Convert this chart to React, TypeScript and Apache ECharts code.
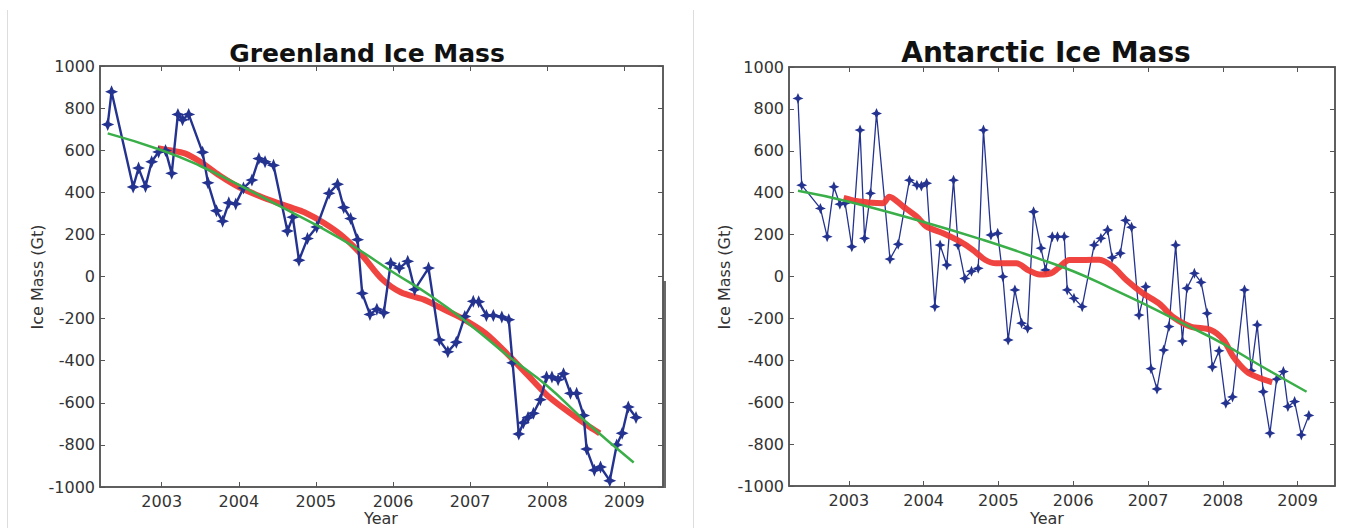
import React, { useEffect, useRef } from "react";
import * as echarts from "echarts";

// ---------- Tick labels ----------
const yearTicks = [2003, 2004, 2005, 2006, 2007, 2008, 2009];

// ---------- Greenland ----------
const grObsYear = [
  2002.30, 2002.35, 2002.63, 2002.70, 2002.79, 2002.87, 2002.96, 2003.05, 2003.13, 2003.21,
  2003.27, 2003.35, 2003.53, 2003.60, 2003.71, 2003.79, 2003.87, 2003.96, 2004.06, 2004.17,
  2004.26, 2004.34, 2004.45, 2004.63, 2004.70, 2004.78, 2004.89, 2005.01, 2005.17, 2005.28,
  2005.36, 2005.45, 2005.54, 2005.60, 2005.70, 2005.79, 2005.88, 2005.97, 2006.08, 2006.19,
  2006.28, 2006.46, 2006.60, 2006.71, 2006.82, 2006.93, 2007.04, 2007.11, 2007.21, 2007.30,
  2007.41, 2007.50, 2007.55, 2007.63, 2007.69, 2007.75, 2007.82, 2007.91, 2007.99, 2008.06,
  2008.14, 2008.21, 2008.30, 2008.38, 2008.47, 2008.51, 2008.61, 2008.69, 2008.81, 2008.90,
  2008.97, 2009.05, 2009.15,
];
const grObsMass = [
  722, 878, 425, 515, 428, 545, 592, 598, 490, 770,
  745, 770, 590, 445, 312, 263, 350, 345, 420, 458,
  560, 545, 528, 216, 282, 77, 180, 235, 395, 438,
  328, 275, 175, -80, -180, -155, -172, 63, 40, 72,
  -62, 40, -302, -358, -312, -190, -118, -120, -185, -185,
  -192, -205, -410, -748, -695, -670, -650, -585, -477, -477,
  -490, -462, -555, -555, -660, -820, -920, -905, -970, -800,
  -745, -620, -670,
];
const grFitYear = [
  2002.95, 2003.1, 2003.3, 2003.5, 2003.75, 2004.0, 2004.25, 2004.5, 2004.7, 2004.85,
  2005.1, 2005.35, 2005.6, 2005.85, 2006.1, 2006.4, 2006.65, 2006.9, 2007.2, 2007.5,
  2007.75, 2008.0, 2008.3, 2008.55, 2008.68,
];
const grFitMass = [
  610, 600, 585, 545, 480, 425, 385, 350, 325, 305,
  255, 190, 100, -10, -75, -110, -155, -200, -270, -375,
  -470, -565, -650, -715, -745,
];
const grTrendYear = [2002.30, 2003.0, 2003.5, 2004.0, 2004.5, 2005.0, 2005.5, 2006.0, 2006.5, 2007.0, 2007.5, 2008.0, 2008.5, 2009.12];
const grTrendMass = [680, 600, 525, 435, 340, 245, 140, 20, -95, -230, -380, -520, -690, -884];

// ---------- Antarctica ----------
const anObsYear = [
  2002.32, 2002.37, 2002.62, 2002.71, 2002.80, 2002.88, 2002.95, 2003.04, 2003.15, 2003.21,
  2003.29, 2003.37, 2003.55, 2003.66, 2003.81, 2003.91, 2003.97, 2004.04, 2004.15, 2004.22,
  2004.31, 2004.40, 2004.46, 2004.55, 2004.64, 2004.73, 2004.80, 2004.90, 2004.99, 2005.06,
  2005.13, 2005.22, 2005.31, 2005.39, 2005.47, 2005.57, 2005.63, 2005.72, 2005.79, 2005.88,
  2005.92, 2006.01, 2006.12, 2006.28, 2006.37, 2006.46, 2006.52, 2006.63, 2006.70, 2006.78,
  2006.88, 2006.97, 2007.04, 2007.12, 2007.21, 2007.28, 2007.37, 2007.46, 2007.52, 2007.62,
  2007.71, 2007.79, 2007.86, 2007.95, 2008.04, 2008.13, 2008.29, 2008.38, 2008.46, 2008.54,
  2008.63, 2008.72, 2008.81, 2008.87, 2008.96, 2009.05, 2009.15,
];
const anObsMass = [
  850, 436, 325, 190, 428, 345, 350, 142, 699, 182,
  397, 778, 83, 154, 460, 436, 432, 445, -144, 150,
  55, 460, 150, -9, 25, 39, 699, 198, 206, -1,
  -303, -64, -223, -247, 309, 135, 31, 190, 190, 190,
  -64, -104, -144, 150, 182, 222, 90, 111, 268, 235,
  -184, -49, -440, -537, -351, -239, 150, -308, -56, 15,
  -28, -176, -432, -355, -605, -575, -64, -450, -231, -550,
  -748, -490, -454, -621, -597, -756, -663,
];
const anFitYear = [
  2002.93, 2003.1, 2003.3, 2003.46, 2003.54, 2003.73, 2003.91, 2004.04, 2004.26, 2004.49,
  2004.66, 2004.82, 2004.97, 2005.24, 2005.40, 2005.55, 2005.70, 2005.80, 2005.95, 2006.17,
  2006.35, 2006.53, 2006.71, 2006.93, 2007.15, 2007.33, 2007.57, 2007.84, 2008.01, 2008.14,
  2008.32, 2008.50, 2008.66,
];
const anFitMass = [
  375, 360, 352, 350, 381, 333, 285, 238, 206, 166,
  126, 80, 63, 63, 30, 10, 15, 40, 79, 79,
  80, 47, -17, -80, -130, -192, -239, -255, -303, -383,
  -454, -486, -505,
];
const anTrendYear = [2002.32, 2003.0, 2004.0, 2004.8, 2005.5, 2006.0, 2006.5, 2007.0, 2007.5, 2008.0, 2008.5, 2009.12];
const anTrendMass = [409, 357, 260, 174, 90, 25, -55, -140, -230, -320, -425, -550];

const zip = (xs: number[], ys: number[]) => xs.map((x, i) => [x, ys[i]]);

const BLUE = "#24338f";
const RED = "#ee3a35";
const GREEN = "#3aae48";
const FRAME = "#555555";
const TXT = "#333333";
const STAR = "path://M5 0 L6.5 3.5 L10 5 L6.5 6.5 L5 10 L3.5 6.5 L0 5 L3.5 3.5 Z";

const grids = [
  { left: 100, top: 66, width: 563, height: 421 },
  { left: 789, top: 67, width: 546, height: 419 },
];

function buildAxes() {
  const xAxis: any[] = [];
  const yAxis: any[] = [];
  [0, 1].forEach((g) => {
    xAxis.push({
      type: "value",
      gridIndex: g,
      min: 2002.2,
      max: 2009.5,
      position: "bottom",
      splitLine: { show: false },
      axisLine: { show: true, onZero: false, lineStyle: { color: FRAME, width: 1.5 } },
      axisTick: { show: true, inside: true, length: 5, customValues: yearTicks, lineStyle: { color: FRAME } },
      axisLabel: {
        customValues: yearTicks,
        formatter: (v: number) => String(Math.round(v)),
        fontFamily: "DejaVu Sans",
        fontSize: 16,
        color: TXT,
        margin: 6,
      },
    });
    xAxis.push({
      type: "value",
      gridIndex: g,
      min: 2002.2,
      max: 2009.5,
      position: "top",
      splitLine: { show: false },
      axisLine: { show: true, onZero: false, lineStyle: { color: FRAME, width: 1.5 } },
      axisTick: { show: true, inside: true, length: 5, customValues: yearTicks, lineStyle: { color: FRAME } },
      axisLabel: { show: false },
    });
    yAxis.push({
      type: "value",
      gridIndex: g,
      min: -1000,
      max: 1000,
      interval: 200,
      position: "left",
      splitLine: { show: false },
      axisLine: { show: true, onZero: false, lineStyle: { color: FRAME, width: 1.5 } },
      axisTick: { show: true, inside: true, length: 5, lineStyle: { color: FRAME } },
      axisLabel: {
        formatter: (v: number) => String(v),
        fontFamily: "DejaVu Sans",
        fontSize: 16,
        color: TXT,
        margin: 5,
      },
    });
    yAxis.push({
      type: "value",
      gridIndex: g,
      min: -1000,
      max: 1000,
      interval: 200,
      position: "right",
      splitLine: { show: false },
      axisLine: { show: true, onZero: false, lineStyle: { color: FRAME, width: 1.5 } },
      axisTick: { show: true, inside: true, length: 5, lineStyle: { color: FRAME } },
      axisLabel: { show: false },
    });
  });
  return { xAxis, yAxis };
}

function obsSeries(data: number[][], g: number, width: number, size: number, z: number) {
  return {
    type: "line",
    xAxisIndex: g * 2,
    yAxisIndex: g * 2,
    data,
    symbol: STAR,
    symbolSize: size,
    showAllSymbol: true,
    lineStyle: { color: BLUE, width },
    itemStyle: { color: BLUE },
    z,
    silent: true,
  };
}
function fitSeries(data: number[][], g: number, z: number) {
  return {
    type: "line",
    xAxisIndex: g * 2,
    yAxisIndex: g * 2,
    data,
    symbol: "none",
    smooth: 0.3,
    lineStyle: { color: RED, width: 6, opacity: 0.95 },
    z,
    silent: true,
  };
}
function trendSeries(data: number[][], g: number, z: number) {
  return {
    type: "line",
    xAxisIndex: g * 2,
    yAxisIndex: g * 2,
    data,
    symbol: "none",
    smooth: true,
    lineStyle: { color: GREEN, width: 2.5 },
    z,
    silent: true,
  };
}

export default function App() {
  const ref = useRef<HTMLDivElement>(null);
  useEffect(() => {
    if (!ref.current) return;
    const chart = echarts.init(ref.current, undefined, { renderer: "svg" });
    const { xAxis, yAxis } = buildAxes();
    chart.setOption({
      animation: false,
      backgroundColor: "#ffffff",
      grid: grids.map((g) => ({ ...g, show: true, borderColor: FRAME, borderWidth: 1.5, backgroundColor: "transparent" })),
      xAxis,
      yAxis,
      series: [
        fitSeries(zip(grFitYear, grFitMass), 0, 2),
        obsSeries(zip(grObsYear, grObsMass), 0, 2.4, 13, 3),
        trendSeries(zip(grTrendYear, grTrendMass), 0, 4),
        obsSeries(zip(anObsYear, anObsMass), 1, 1.3, 11, 2),
        fitSeries(zip(anFitYear, anFitMass), 1, 3),
        trendSeries(zip(anTrendYear, anTrendMass), 1, 4),
      ],
      graphic: [
        { type: "line", shape: { x1: 7.5, y1: 10, x2: 7.5, y2: 528 }, style: { stroke: "#dddddd", lineWidth: 1 } },
        { type: "line", shape: { x1: 693.5, y1: 10, x2: 693.5, y2: 528 }, style: { stroke: "#dddddd", lineWidth: 1 } },
        { type: "rect", shape: { x: 663, y: 281, width: 3, height: 207 }, style: { fill: "#6a6a6a" } },
        {
          type: "text", x: 367, y: 53,
          style: { text: "Greenland Ice Mass", fontFamily: "DejaVu Sans", fontWeight: "bold", fontSize: 25, fill: "#111", align: "center", verticalAlign: "middle" },
        },
        {
          type: "text", x: 1046, y: 52,
          style: { text: "Antarctic Ice Mass", fontFamily: "DejaVu Sans", fontWeight: "bold", fontSize: 28, fill: "#111", align: "center", verticalAlign: "middle" },
        },
        {
          type: "text", x: 37, y: 277, rotation: Math.PI / 2,
          style: { text: "Ice Mass (Gt)", fontFamily: "DejaVu Sans", fontSize: 16, fill: TXT, align: "center", verticalAlign: "middle" },
        },
        {
          type: "text", x: 724, y: 277, rotation: Math.PI / 2,
          style: { text: "Ice Mass (Gt)", fontFamily: "DejaVu Sans", fontSize: 16, fill: TXT, align: "center", verticalAlign: "middle" },
        },
        {
          type: "text", x: 381, y: 510,
          style: { text: "Year", fontFamily: "DejaVu Sans", fontSize: 16, fill: TXT, align: "center", verticalAlign: "top" },
        },
        {
          type: "text", x: 1047, y: 510,
          style: { text: "Year", fontFamily: "DejaVu Sans", fontSize: 16, fill: TXT, align: "center", verticalAlign: "top" },
        },
      ],
    });
    return () => chart.dispose();
  }, []);
  return <div ref={ref} style={{ position: "absolute", left: 0, top: 0, width: 1354, height: 528 }} />;
}
